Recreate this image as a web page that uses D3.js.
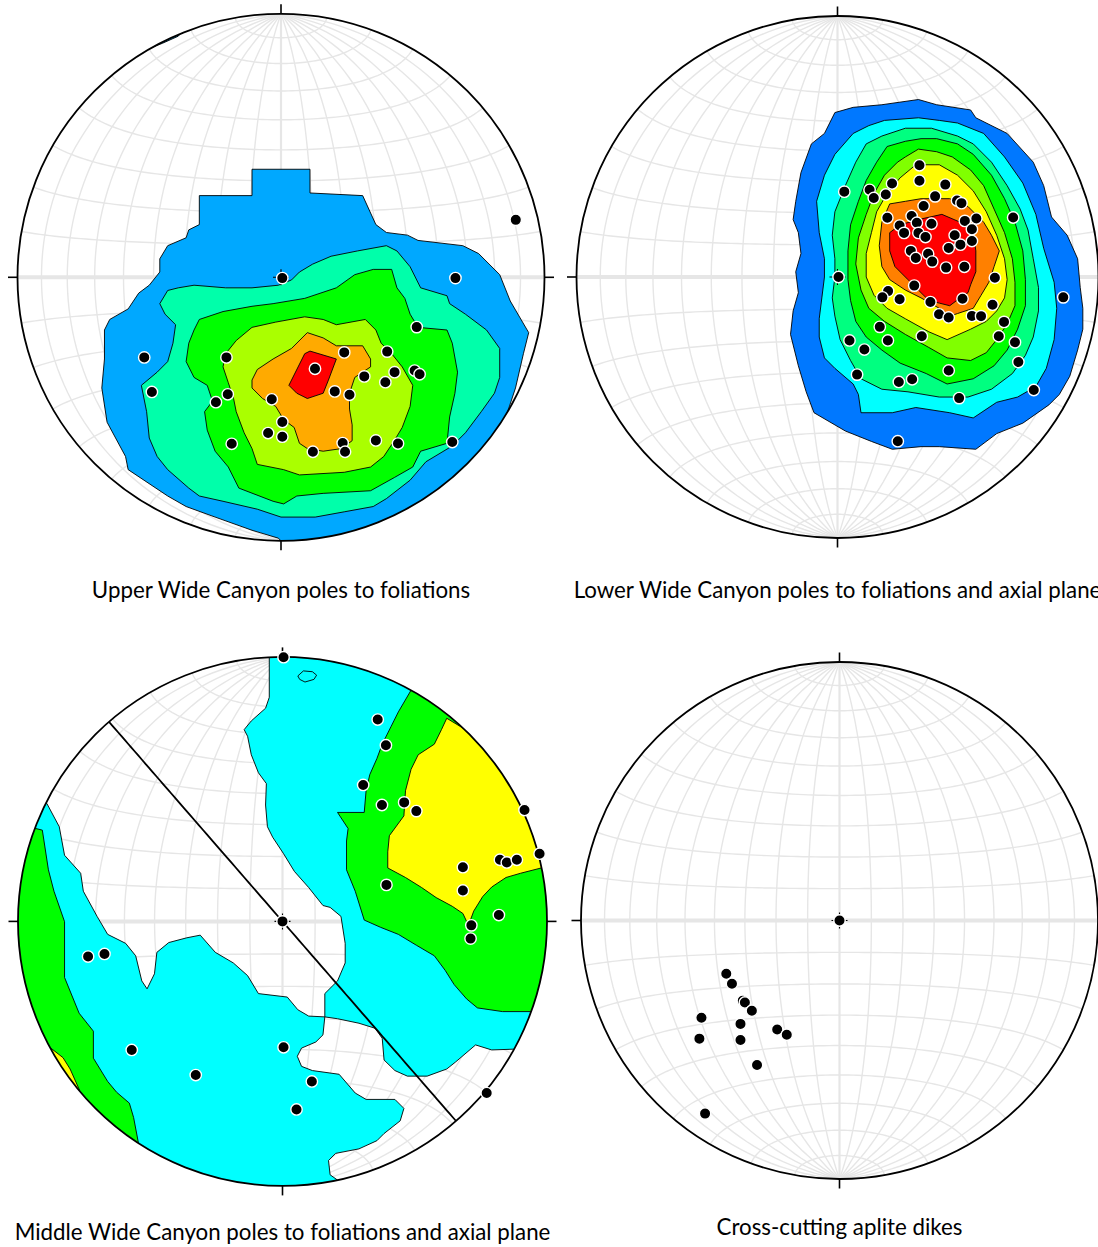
<!DOCTYPE html>
<html>
<head>
<meta charset="utf-8">
<script src="https://cdn.jsdelivr.net/npm/d3@7"></script>
<style>
  html, body { margin: 0; padding: 0; background: #fff; }
  svg { display: block; }
</style>
</head>
<body>
<svg id="chart" width="1098" height="1247"></svg>
<script>
// Lower-hemisphere equal-area (Schmidt) nets of poles to foliation.
// Every point and contour vertex is given in projected net coordinates,
// as percent of the net radius: [east, north], centre = [0, 0], primitive = 100.

const netTitles = [
  "Upper Wide Canyon poles to foliations",
  "Lower Wide Canyon poles to foliations and axial plane",
  "Middle Wide Canyon poles to foliations and axial plane",
  "Cross-cutting aplite dikes"
];

const gridIntervalDeg = 10;

// ---------- Upper Wide Canyon ----------
const upperPoles = [
  [0.5,-0.3],[89.1,21.8],[66.2,-0.3],[51.5,-18.9],[-51.9,-30.4],[-20.7,-30.4],[24.0,-28.5],
  [40.3,-28.2],[12.9,-34.7],[31.6,-37.6],[43.1,-36.0],[50.7,-35.4],[52.6,-36.8],[39.6,-39.8],
  [-49.0,-43.5],[-20.2,-44.4],[-24.7,-47.4],[-3.5,-46.3],[20.4,-43.3],[26.0,-44.6],[0.5,-54.9],
  [-4.9,-59.1],[0.5,-60.5],[-18.7,-63.2],[12.1,-66.2],[23.4,-62.9],[24.3,-66.2],[36.0,-61.9],
  [44.4,-63.1],[65.0,-62.5]
];
const upperColors = ["#00a8ff", "#00ffaa", "#00ff00", "#aaff00", "#ffaa00", "#ff0000"];
const upperContours = [
  [ // level 1
    [[[-11,41],[11,41],[11,32],[31,31],[36,20],[40,17],[48,16],[52,14],[69,12],[75,9],[83,1],[87,-9],
      [94,-21],[92,-29],[89,-42],[85,-54],[95,-60],[60,-100],[5,-105],[-1,-99],[-11,-96],[-25,-91],
      [-36,-87],[-43,-83],[-58,-73],[-59,-68],[-66,-55],[-68,-42],[-67,-31],[-67,-20],[-65,-16],
      [-58,-12],[-54,-6],[-50,-3],[-46,2],[-46,7],[-43,12],[-36,15],[-35,18],[-31,20],[-31,31],[-11,31]]],
    [[[-51,86.5],[-45,88.8],[-39,91.5],[-37,94],[-52,88]]]
  ],
  [ // level 2
    [[[-46,-10],[-43,-5],[-39,-4],[-33,-3],[-21,-4],[-11,-4],[-1,-3],[4,-1],[7,2],[12,5],[19,8],[29,10],
      [40,12],[44,10],[49,4],[53,-4],[63,-7],[64,-10],[70,-14],[78,-20],[83,-27],[83,-38],[81,-44],
      [76,-51],[70,-59],[65,-64],[55,-70],[49,-77],[40,-84],[35,-87],[24,-89],[13,-91],[0,-91],[-9,-88],
      [-22,-85],[-31,-83],[-35,-80],[-43,-73],[-47,-68],[-50,-61],[-51,-51],[-53,-41],[-47,-36],
      [-43,-32],[-41,-25],[-40,-18],[-44,-14]]]
  ],
  [ // level 3
    [[[-31,-16],[-22,-13],[-11,-11],[-3,-10],[9,-8],[21,-4],[28,1],[35,3],[42,3],[44,-4],[47,-8],
      [49,-14],[52,-19],[63,-20],[65,-25],[67,-36],[66,-44],[64,-53],[63,-63],[53,-66],[50,-72],
      [43,-76],[34,-81],[16,-82],[6,-83],[1,-86],[-3,-85],[-16,-80],[-20,-72],[-25,-66],[-28,-58],
      [-29,-51],[-26,-47],[-28,-41],[-33,-38],[-36,-32],[-35,-25],[-33,-20]]]
  ],
  [ // level 4
    [[[-21,-29],[-17,-24],[-11,-19],[-2,-17],[9,-15],[16,-16],[21,-18],[32,-16],[36,-20],[38,-25],
      [42,-29],[46,-34],[50,-41],[49,-49],[46,-57],[43,-62],[39,-68],[34,-72],[24,-74],[7,-75],
      [1,-73],[-9,-71],[-11,-65],[-14,-59],[-17,-51],[-18,-46],[-20,-40],[-22,-34]]]
  ],
  [ // level 5
    [[[-11,-39],[-9,-35],[-3,-31],[4,-27],[10,-21],[16,-23],[21,-26],[31,-26],[34,-31],[34,-34],
      [28,-38],[26,-44],[26,-50],[27,-56],[27,-62],[23,-65],[16,-66],[10,-65],[7,-63],[5,-57],
      [1,-54],[-2,-49],[-7,-46],[-11,-42]]]
  ],
  [ // level 6
    [[[3,-41],[9,-29],[11,-28],[21,-31],[18,-39],[16,-44],[10,-46],[6,-44]]]
  ]
];

// ---------- Lower Wide Canyon ----------
const lowerPoles = [
  [31.4,42.8],[31.4,36.9],[2.6,32.7],[12.3,33.4],[13.9,30.3],[20.9,35.8],[18.5,31.6],[41.3,35.4],
  [37.4,30.9],[33.0,27.2],[45.8,29.3],[47.5,28.3],[19.1,22.7],[28.4,23.4],[30.4,20.8],[23.8,19.7],
  [25.5,16.9],[36.0,20.4],[48.8,21.5],[53.2,22.4],[51.5,18.3],[67.3,22.8],[31.0,16.9],[33.7,15.3],
  [44.9,16.0],[47.1,12.4],[42.6,11.1],[51.5,13.8],[28.1,10.0],[34.7,8.9],[30.0,7.3],[36.3,5.9],
  [41.6,3.6],[48.6,3.9],[0.4,0],[60.3,-0.3],[29.4,-3.3],[19.4,-5.4],[17.2,-7.8],[23.8,-8.5],
  [35.6,-9.6],[47.9,-8.3],[59.4,-10.6],[86.5,-7.8],[38.9,-14.3],[42.6,-15.5],[51.5,-14.9],
  [55.0,-15.0],[63.8,-17.2],[16.2,-19.1],[32.3,-22.7],[61.8,-22.7],[68.0,-25.0],[4.6,-24.3],
  [19.3,-24.3],[10.3,-27.8],[69.3,-32.6],[42.6,-35.8],[7.5,-37.4],[23.5,-40.2],[28.6,-39.2],
  [46.6,-46.4],[75.2,-43.3],[23.1,-62.9]
];
const lowerColors = ["#0078ff", "#00ffff", "#00ff80", "#00ff00", "#80ff00", "#ffff00", "#ff8000", "#ff0000"];
const lowerContours = [
  [[[[-1,63],[6,65],[17,66],[31,68],[38,66],[51,64],[53,61],[65,55],[75,44],[79,35],[82,23],[88,16],
     [92,7],[93,-4],[94,-12],[94,-20],[92,-28],[89,-38],[85,-45],[81,-49],[71,-56],[61,-60],[53,-66],
     [39,-65],[32,-65],[21,-66],[13,-63],[3,-59],[-9,-52],[-12,-44],[-15,-34],[-18,-22],[-17,-13],
     [-15,-6],[-16,2],[-14,9],[-15,17],[-17,22],[-16,29],[-14,40],[-10,51],[-5,55]]]],
  [[[[6,55],[12,58],[18,60],[31,61],[39,60],[46,59],[56,55],[64,46],[71,36],[76,24],[79,11],[83,-2],
     [84,-12],[83,-24],[80,-35],[76,-42],[69,-46],[61,-48],[52,-54],[43,-52],[30,-50],[21,-52],[9,-52],
     [8,-45],[6,-41],[-1,-35],[-5,-31],[-7,-23],[-7,-16],[-6,-8],[-5,0],[-5,7],[-7,17],[-8,29],[-5,39],
     [-1,47]]]],
  [[[[11,51],[17,54],[26,57],[36,57],[46,54],[52,51],[59,44],[65,35],[70,26],[73,18],[75,7],[77,-4],
     [77,-13],[75,-23],[72,-30],[67,-37],[59,-43],[50,-46],[39,-46],[27,-44],[17,-43],[9,-39],[5,-32],
     [1,-24],[-1,-15],[-2,-8],[-1,0],[-1,7],[-2,16],[-1,25],[3,35],[7,44]]]],
  [[[[19,50],[26,52],[32,53],[38,53],[46,51],[52,47],[59,39],[64,30],[68,21],[71,10],[72,-1],[72,-11],
     [69,-20],[65,-28],[60,-34],[52,-39],[42,-41],[34,-37],[24,-33],[17,-28],[11,-23],[7,-17],[5,-9],
     [4,-1],[4,10],[5,20],[8,29],[11,37],[15,44]]]],
  [[[[26,46],[31,49],[38,48],[44,46],[51,41],[56,35],[60,26],[64,17],[67,7],[68,-2],[68,-11],[65,-18],
     [61,-24],[57,-29],[51,-32],[42,-31],[35,-27],[26,-22],[18,-17],[12,-12],[9,-5],[7,5],[8,15],
     [11,24],[14,32],[18,39],[23,44]]]],
  [[[[30,43],[39,43],[46,39],[52,33],[57,25],[61,16],[64,7],[65,-1],[64,-8],[61,-13],[57,-17],[51,-20],
     [42,-24],[35,-21],[26,-16],[19,-12],[14,-7],[11,0],[11,9],[13,17],[15,25],[19,32],[24,38]]]],
  [[[[20,28],[26,29],[32,30],[43,30],[50,27],[56,21],[59,16],[62,10],[60,4],[58,-2],[55,-7],[52,-12],
     [46,-14],[43,-15],[39,-12],[32,-8],[26,-5],[20,-1],[17,4],[16,12],[17,21]]]],
  [[[[20,17],[24,20],[31,22],[40,24],[47,21],[52,17],[53,10],[53,2],[51,-3],[50,-6],[47,-8],[43,-11],
     [39,-10],[35,-9],[31,-5],[27,-1],[22,4],[20,10]]]]
];

// ---------- Middle Wide Canyon ----------
const middlePoles = [
  [0.4,99.9],[36.0,76.3],[39.1,66.6],[30.5,51.6],[37.6,44.0],[46.0,45.0],[50.6,41.7],[91.5,42.1],
  [97.2,25.6],[82.2,23.3],[84.8,22.3],[88.6,23.3],[68.2,20.5],[39.3,13.8],[68.2,11.7],[81.8,2.4],
  [71.4,-1.5],[71.1,-6.5],[0,0],[-73.5,-13.3],[-67.3,-12.3],[-57.0,-48.6],[-32.8,-58.1],
  [0.4,-47.6],[11.1,-60.5],[5.3,-71.1],[77.2,-64.9]
];
// axial plane: [strike, dip] in degrees
const middlePlanes = [[139, 90]];
const middleColors = ["#00ffff", "#00ff00", "#ffff00"];
const middleContours = [
  [ // level 1: whole net with two low-density windows
    [
      [[0,115],[81,81],[115,0],[81,-81],[0,-115],[-81,-81],[-115,0],[-81,81]],
      [[-5.5,106],[-36.3,99.6],[-68.1,81.2],[-94.4,48.1],[-89.1,44.6],[-84.4,35.8],[-82.4,25.0],
       [-76.3,18.2],[-75.3,11.4],[-70.1,1.9],[-66.1,-4.9],[-59.3,-8.3],[-55.5,-13.0],[-53.2,-22.5],
       [-51.2,-25.5],[-48.4,-19.8],[-47.5,-11.7],[-43.0,-8.0],[-36.2,-6.2],[-31.1,-5.2],[-25.4,-11.7],
       [-18.6,-15.7],[-13.2,-20.5],[-9.1,-27.3],[1.8,-28.6],[5.8,-33.4],[9.9,-35.8],[16.0,-36.1],
       [16.0,-27.3],[20.8,-22.5],[23.7,-15.7],[23.7,-8.3],[22.1,1.9],[18.0,5.3],[15.3,6.0],[9.9,12.8],
       [4.5,18.9],[0.4,25.6],[-3.7,31.8],[-5.7,35.8],[-6.4,44.0],[-6.1,52.1],[-9.1,56.2],[-11.8,63.0],
       [-13.2,70.0],[-14.5,72.5],[-11.8,75.8],[-6.4,80.6],[-5.0,84.7],[-5.0,100.0]],
      [[16.0,-36.1],[20.8,-36.8],[28.9,-38.5],[35.0,-40.4],[37.7,-44.2],[38.4,-52.4],[42.5,-56.4],
       [47.2,-58.5],[54.7,-58.5],[62.1,-55.8],[65.5,-53.1],[73.0,-46.7],[79.1,-48.6],[87.5,-48.3],
       [91.8,-53],[68.1,-81.2],[36.3,-99.6],[22.0,-103.7],[20.8,-97.8],[18.0,-95.8],[17.4,-90.4],
       [20.1,-87.7],[28.9,-86.0],[35.7,-82.9],[38.4,-80.2],[44.5,-75.4],[45.9,-70.7],[42.5,-67.3],
       [31.6,-67.3],[27.5,-64.9],[21.4,-57.8],[11.3,-56.4],[7.2,-54.8],[5.6,-51.0],[7.2,-47.9],
       [12.6,-45.6],[15.3,-42.9]]
    ],
    [[[5.8,92.8],[7.9,94.7],[11.3,94.4],[12.9,93.1],[11.9,91.5],[8.5,90.5],[6.5,91.5]]]
  ],
  [ // level 2
    [[[48.6,87.4],[43.8,79.2],[41.1,73.8],[37.7,67.0],[35.7,61.6],[33.0,55.5],[31.6,49.4],[30.9,41.2],
      [20.8,41.2],[24.8,35.1],[24.2,30.4],[24.2,19.5],[27.5,11.4],[30.9,0.5],[37.0,-2.2],[43.8,-4.9],
      [50.6,-9.0],[57.4,-13.0],[61.5,-18.5],[64.9,-23.9],[69.6,-29.3],[73.7,-32.7],[83.2,-34.1],
      [93.8,-34.1],[99.6,-36.3],[106,0],[99.6,36.3],[81.2,68.1],[51.4,92.7]]],
    [[[-93.2,35.1],[-90.8,34.5],[-88.5,19.5],[-86.4,11.4],[-82.4,-0.1],[-82.4,-21.2],[-76.9,-34.7],
      [-71.5,-41.5],[-71.5,-51.7],[-66.1,-60.5],[-62.7,-64.6],[-57.9,-68.7],[-56.3,-74.1],[-54.5,-83.6],
      [-60.8,-86.8],[-91.8,-53],[-105.6,-9.2],[-99.6,36.3]]]
  ],
  [ // level 3
    [[[62.1,76.8],[60.1,72.5],[57.4,67.0],[51.3,63.0],[48.6,57.5],[46.5,49.4],[45.9,39.9],[40.4,32.4],
      [39.8,26.3],[39.8,20.2],[46.5,16.6],[52.6,12.8],[58.1,9.0],[64.2,5.7],[68.2,3.0],[70.3,-1.5],
      [72.3,3.9],[75.7,9.4],[79.1,13.0],[84.5,16.6],[90.0,18.2],[97.8,20.2],[103.7,22.0],[91.8,53],
      [72.3,77.5],[68.2,73.1]]],
    [[[-87.1,-48.3],[-83,-51.5],[-80.3,-55.8],[-76.7,-63.9],[-80,-62],[-86,-53],[-89,-47]]]
  ]
];

// ---------- Cross-cutting aplite dikes ----------
const aplitePoles = [
  [0,0],[-43.8,-20.6],[-41.6,-24.5],[-37.4,-31.0],[-36.6,-31.7],[-33.9,-34.9],[-53.4,-37.6],
  [-38.3,-40.0],[-54.2,-45.7],[-38.3,-46.2],[-24.1,-42.2],[-20.4,-44.2],[-31.9,-55.9],[-52.0,-74.7]
];

// ---------- drawing ----------
const svg = d3.select("#chart");
svg.append("rect").attr("width", 1098).attr("height", 1247).attr("fill", "#fff");

const nets = [
  { cx: 281,   cy: 277.3, r: 263.5, title: netTitles[0], ty: 598,  poles: upperPoles,  contours: upperContours,  colors: upperColors,  planes: [] },
  { cx: 837.5, cy: 277,   r: 261,   title: netTitles[1], ty: 598,  poles: lowerPoles,  contours: lowerContours,  colors: lowerColors,  planes: [] },
  { cx: 282.5, cy: 921.4, r: 264.5, title: netTitles[2], ty: 1240, poles: middlePoles, contours: middleContours, colors: middleColors, planes: middlePlanes },
  { cx: 839.5, cy: 920.5, r: 258.5, title: netTitles[3], ty: 1235, poles: aplitePoles, contours: [],             colors: [],           planes: [] }
];

// Great circle of a plane (strike, dip; right-hand rule) projected to net coordinates.
function planeTrace(strike, dip) {
  const rad = Math.PI / 180;
  const s = strike * rad, d = dip * rad, dd = s + Math.PI / 2;
  const S = [Math.sin(s), Math.cos(s), 0];
  const D = [Math.sin(dd) * Math.cos(d), Math.cos(dd) * Math.cos(d), Math.sin(d)];
  return d3.range(0, 181, 2).map(t => {
    const a = t * rad;
    const v = S.map((c, i) => Math.cos(a) * c + Math.sin(a) * D[i]);
    const plunge = Math.asin(Math.max(-1, Math.min(1, v[2])));
    const trend = Math.atan2(v[0], v[1]);
    const rho = Math.SQRT2 * Math.sin((Math.PI / 2 - plunge) / 2) * 100;
    return [rho * Math.sin(trend), rho * Math.cos(trend)];
  });
}

nets.forEach((net, k) => {
  const x = d3.scaleLinear().domain([-100, 100]).range([net.cx - net.r, net.cx + net.r]);
  const y = d3.scaleLinear().domain([-100, 100]).range([net.cy + net.r, net.cy - net.r]);
  const projection = d3.geoAzimuthalEqualArea()
    .rotate([0, 0])
    .scale(net.r / Math.SQRT2)
    .translate([net.cx, net.cy]);
  const geo = d3.geoPath(projection);

  const clipId = "clip" + k;
  svg.append("clipPath").attr("id", clipId)
    .append("circle").attr("cx", net.cx).attr("cy", net.cy).attr("r", net.r);

  const g = svg.append("g");
  const inner = g.append("g").attr("clip-path", `url(#${clipId})`);

  // graticule: great circles (meridians) and small circles (parallels)
  const step = gridIntervalDeg;
  const lats = d3.range(-90, 90.001, 2);
  const lons = d3.range(-90, 90.001, 2);
  const grid = inner.append("g").attr("fill", "none").attr("stroke", "#e6e6e6");
  d3.range(-90 + step, 90, step).filter(v => v !== 0).forEach(lon => {
    grid.append("path").attr("stroke-width", 1.4)
      .attr("d", geo({ type: "LineString", coordinates: lats.map(la => [lon, la]) }));
  });
  d3.range(-90 + step, 90, step).filter(v => v !== 0).forEach(lat => {
    grid.append("path").attr("stroke-width", 1.4)
      .attr("d", geo({ type: "LineString", coordinates: lons.map(lo => [lo, lat]) }));
  });
  grid.append("path").attr("stroke-width", 2.2)
    .attr("d", geo({ type: "LineString", coordinates: lats.map(la => [0, la]) }));
  grid.append("path").attr("stroke-width", 4)
    .attr("d", geo({ type: "LineString", coordinates: lons.map(lo => [lo, 0]) }));

  // density contours
  const ring = d3.line().x(p => x(p[0])).y(p => y(p[1])).curve(d3.curveLinearClosed);
  net.contours.forEach((level, i) => {
    level.forEach(poly => {
      inner.append("path")
        .attr("d", poly.map(r => ring(r)).join(""))
        .attr("fill", net.colors[i])
        .attr("fill-rule", "evenodd")
        .attr("stroke", "#000")
        .attr("stroke-width", 0.9)
        .attr("stroke-linejoin", "round");
    });
  });

  // planes
  net.planes.forEach(pl => {
    inner.append("path")
      .attr("d", d3.line().x(p => x(p[0])).y(p => y(p[1]))(planeTrace(pl[0], pl[1])))
      .attr("fill", "none").attr("stroke", "#000").attr("stroke-width", 1.8);
  });

  // primitive circle
  g.append("circle").attr("cx", net.cx).attr("cy", net.cy).attr("r", net.r)
    .attr("fill", "none").attr("stroke", "#000").attr("stroke-width", 1.8);

  // N, E, S, W ticks
  const tick = 9.5;
  const ticks = [
    [x(0), y(100), x(0), y(100) - tick],
    [x(0), y(-100), x(0), y(-100) + tick],
    [x(-100), y(0), x(-100) - tick, y(0)],
    [x(100), y(0), x(100) + tick, y(0)]
  ];
  g.selectAll(null).data(ticks).join("line")
    .attr("x1", d => d[0]).attr("y1", d => d[1]).attr("x2", d => d[2]).attr("y2", d => d[3])
    .attr("stroke", "#000").attr("stroke-width", 1.6);

  // centre cross
  const cc = 8;
  g.append("path")
    .attr("d", `M${x(0) - cc},${y(0)}H${x(0) + cc}M${x(0)},${y(0) - cc}V${y(0) + cc}`)
    .attr("stroke", "#000").attr("stroke-width", 1.1);

  // poles
  g.selectAll(null).data(net.poles).join("circle")
    .attr("cx", d => x(d[0])).attr("cy", d => y(d[1])).attr("r", 5.7)
    .attr("fill", "#000").attr("stroke", "#fff").attr("stroke-width", 1.4);

  // title
  svg.append("text")
    .attr("x", net.cx).attr("y", net.ty)
    .attr("text-anchor", "middle")
    .attr("font-family", "Lato, 'Open Sans', sans-serif")
    .attr("font-size", 22.3)
    .attr("fill", "#000")
    .text(net.title);
});
</script>
</body>
</html>
